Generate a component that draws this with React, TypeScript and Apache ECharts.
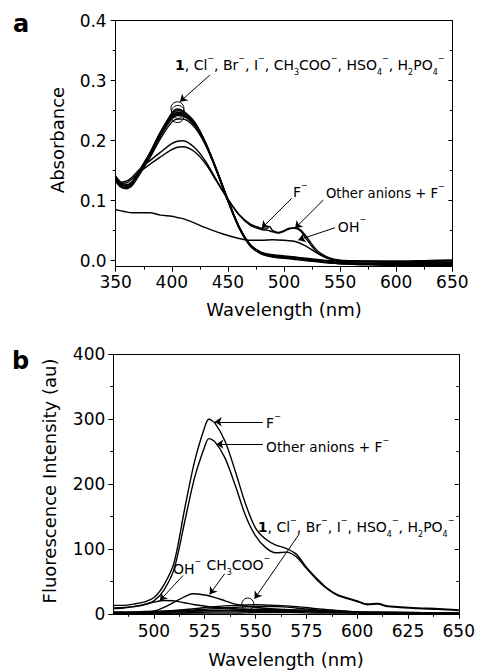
import React, { useEffect, useRef } from "react";
import * as echarts from "echarts";

const FONT = "DejaVu Sans";

// ---------- Panel a : absorbance ----------
const waveA = [350, 355, 360, 365, 370, 380, 390, 400, 405, 410, 420, 430, 440, 450, 460, 470, 480, 490, 500, 510, 520, 530, 540, 550, 575, 600, 625, 650];
const absCompound1 = [0.140, 0.128, 0.125, 0.131, 0.146, 0.178, 0.215, 0.244, 0.250, 0.248, 0.231, 0.197, 0.151, 0.101, 0.056, 0.026, 0.013, 0.008, 0.006, 0.004, 0.002, 0.000, -0.002, -0.003, -0.004, -0.004, -0.004, -0.004];
const absCl = [0.138, 0.126, 0.124, 0.130, 0.145, 0.177, 0.214, 0.246, 0.253, 0.250, 0.232, 0.197, 0.150, 0.100, 0.055, 0.025, 0.012, 0.008, 0.007, 0.006, 0.004, 0.002, 0.000, -0.001, -0.002, -0.002, -0.001, 0.000];
const absBr = [0.136, 0.124, 0.122, 0.128, 0.143, 0.175, 0.211, 0.240, 0.246, 0.244, 0.228, 0.195, 0.149, 0.099, 0.054, 0.024, 0.011, 0.006, 0.004, 0.002, 0.000, -0.002, -0.004, -0.005, -0.006, -0.006, -0.006, -0.006];
const absI = [0.134, 0.123, 0.121, 0.127, 0.142, 0.173, 0.208, 0.236, 0.242, 0.241, 0.226, 0.194, 0.149, 0.100, 0.055, 0.025, 0.012, 0.007, 0.005, 0.003, 0.001, -0.001, -0.003, -0.004, -0.005, -0.005, -0.005, -0.005];
const absAcetate = [0.132, 0.122, 0.120, 0.126, 0.140, 0.170, 0.204, 0.231, 0.236, 0.236, 0.223, 0.193, 0.150, 0.102, 0.057, 0.027, 0.014, 0.010, 0.008, 0.006, 0.003, 0.000, -0.003, -0.005, -0.007, -0.008, -0.008, -0.008];
const absHSO4 = [0.137, 0.127, 0.125, 0.131, 0.146, 0.177, 0.212, 0.241, 0.247, 0.246, 0.230, 0.196, 0.151, 0.101, 0.056, 0.026, 0.013, 0.009, 0.007, 0.005, 0.002, 0.000, -0.002, -0.004, -0.006, -0.007, -0.007, -0.007];
const absH2PO4 = [0.141, 0.130, 0.127, 0.133, 0.147, 0.178, 0.213, 0.239, 0.244, 0.243, 0.229, 0.197, 0.152, 0.102, 0.056, 0.026, 0.013, 0.008, 0.006, 0.004, 0.002, 0.001, 0.000, -0.001, -0.001, -0.001, 0.000, 0.001];
const absOH = [0.085, 0.083, 0.081, 0.080, 0.080, 0.080, 0.076, 0.074, 0.072, 0.070, 0.063, 0.055, 0.048, 0.042, 0.037, 0.034, 0.034, 0.035, 0.034, 0.032, 0.024, 0.012, 0.003, 0.000, -0.001, -0.001, 0.000, 0.001];

const waveAF = [350, 355, 360, 365, 370, 380, 390, 400, 405, 410, 420, 430, 440, 450, 460, 470, 480, 484, 487, 490, 495, 500, 505, 510, 515, 520, 530, 540, 550, 575, 600, 625, 650];
const absF = [0.137, 0.131, 0.133, 0.140, 0.150, 0.166, 0.181, 0.195, 0.199, 0.200, 0.189, 0.166, 0.134, 0.103, 0.077, 0.061, 0.054, 0.053, 0.057, 0.050, 0.047, 0.050, 0.054, 0.054, 0.049, 0.036, 0.013, 0.004, 0.000, -0.002, -0.003, -0.003, -0.003];
const absOtherF = [0.135, 0.129, 0.130, 0.137, 0.146, 0.160, 0.173, 0.185, 0.189, 0.190, 0.182, 0.162, 0.132, 0.102, 0.076, 0.059, 0.052, 0.051, 0.050, 0.048, 0.046, 0.049, 0.053, 0.055, 0.051, 0.040, 0.016, 0.005, 0.001, -0.001, -0.002, -0.002, -0.002];

const absTicks = [0, 0.1, 0.2, 0.3, 0.4];
const absMinorTicks = [0.05, 0.15, 0.25, 0.35];

// ---------- Panel b : fluorescence ----------
const waveBF = [480, 485, 490, 495, 500, 505, 510, 515, 520, 525, 527, 530, 535, 540, 545, 550, 555, 560, 565, 570, 575, 580, 585, 590, 600, 605, 610, 615, 620, 630, 640, 650];
const fluF = [13, 13, 15, 18, 25, 45, 80, 160, 235, 288, 300, 294, 266, 220, 170, 132, 115, 106, 101, 92, 72, 55, 40, 30, 20, 15, 16, 12, 11, 9, 8, 6];
const fluOtherF = [8, 9, 11, 14, 20, 37, 70, 140, 210, 258, 270, 265, 240, 198, 152, 120, 102, 94, 95, 88, 70, 53, 39, 29, 19, 14, 15, 11, 10, 8, 7, 5];

const waveBG = [480, 490, 500, 510, 520, 530, 540, 550, 560, 570, 580, 590, 600, 620, 650];
const fluCompound1 = [1, 2, 3, 5, 8, 11, 13, 14, 13, 11, 8, 5, 3, 2, 1];
const fluCl = [2, 2, 3, 4, 6, 8, 10, 11, 11, 9, 6, 4, 3, 2, 1];
const fluBr = [1, 1, 2, 3, 4, 5, 6, 7, 7, 6, 5, 4, 3, 2, 1];
const fluI = [0, 1, 1, 1, 2, 3, 3, 4, 4, 4, 3, 2, 2, 1, 1];
const fluHSO4 = [3, 3, 4, 4, 5, 5, 5, 5, 5, 5, 4, 3, 2, 1, 0];
const fluH2PO4 = [0, 0, 0, 1, 1, 1, 1, 2, 2, 2, 1, 1, 1, 0, 0];

const waveOH = [480, 490, 495, 500, 505, 510, 515, 520, 530, 540, 550, 560, 580, 600, 625, 650];
const fluOH = [9, 11, 14, 18, 20.5, 20, 17, 14, 10, 8, 6, 5, 3, 2, 1, 1];

const waveAc = [480, 490, 500, 505, 510, 515, 519, 525, 530, 535, 540, 550, 560, 570, 580, 600, 625, 650];
const fluAcetate = [0, 1, 4, 10, 18, 26, 31, 29, 25, 20, 15, 10, 7, 5, 3, 2, 1, 0];

const waveTicksB = [500, 525, 550, 575, 600, 625, 650];
const waveMinorTicksB = [487.5, 512.5, 537.5, 562.5, 587.5, 612.5, 637.5];

// ---------- Annotations (data coordinates) ----------
const arrowsA = [
  [[434, 0.3095], [407.3, 0.265]],
  [[506.9, 0.104], [480.1, 0.054]],
  [[535, 0.101], [509.8, 0.054]],
  [[545.5, 0.055], [512.7, 0.0345]],
];
const circlesA = [[405, 0.254], [405.5, 0.248], [405, 0.241]];
const labelsA = [
  { at: [402.9, 0.326], size: 14, text: "{b|1}, Cl{sp|−}, Br{sp|−}, I{sp|−}, CH{sb|3}COO{sp|−}, HSO{sb|4}{sp|−}, H{sb|2}PO{sb|4}{sp|−}" },
  { at: [508, 0.114], size: 14, text: "F{sp|−}" },
  { at: [537.4, 0.112], size: 13.2, text: "Other anions + F{sp|−}" },
  { at: [548, 0.0567], size: 14, text: "OH{sp|−}" },
];

const arrowsB = [
  [[553.6, 296], [529.9, 296]],
  [[553.6, 261.5], [530.7, 261.5]],
  [[571.6, 123.5], [549.5, 23.2]],
  [[514.3, 59], [502.9, 20.5]],
  [[534.8, 61.8], [527.4, 29.8]],
];
const circlesB = [[546.2, 15]];
const labelsB = [
  { at: [555.2, 293.4], size: 14, text: "F{sp|−}" },
  { at: [555.2, 257.3], size: 13.7, text: "Other anions + F{sp|−}" },
  { at: [551.1, 133.7], size: 14, text: "{b|1}, Cl{sp|−}, Br{sp|−}, I{sp|−}, HSO{sb|4}{sp|−}, H{sb|2}PO{sb|4}{sp|−}" },
  { at: [509.4, 69.5], size: 14, text: "OH{sp|−}" },
  { at: [525.8, 74.6], size: 14, text: "CH{sb|3}COO{sp|−}" },
];

const BLACK = "#000";

function lineSeries(x: number[], y: number[], xi: number, yi: number, extra: any = {}) {
  return {
    type: "line",
    xAxisIndex: xi,
    yAxisIndex: yi,
    data: x.map((v, i) => [v, y[i]]),
    symbol: "none",
    smooth: 0.3,
    silent: true,
    lineStyle: { color: BLACK, width: 1.4 },
    ...extra,
  };
}

function annot(arrows: number[][][], circles: number[][], size: number) {
  return {
    markLine: {
      silent: true,
      animation: false,
      symbol: ["none", "arrow"],
      symbolSize: 7,
      label: { show: false },
      lineStyle: { color: BLACK, width: 1, type: "solid" },
      emphasis: { disabled: true },
      data: arrows.map(([s, e]) => [{ coord: s }, { coord: e }]),
    },
    markPoint: {
      silent: true,
      animation: false,
      symbol: "circle",
      symbolSize: size,
      itemStyle: { color: "rgba(0,0,0,0)", borderColor: BLACK, borderWidth: 1 },
      label: { show: false },
      data: circles.map((c) => ({ coord: c })),
    },
  };
}

const tickLabel = { color: BLACK, fontFamily: FONT, fontSize: 17 };
const axLine = { show: true, onZero: false, lineStyle: { color: BLACK, width: 1 } };
const noLine = { show: false, onZero: false };

function buildOption() {
  return {
    animation: false,
    backgroundColor: "#fff",
    grid: [
      { left: 115.7, top: 20.7, width: 336.6, height: 246 },
      { left: 113.3, top: 354.3, width: 346.7, height: 259.5 },
    ],
    xAxis: [
      {
        gridIndex: 0, type: "value", min: 350, max: 650, interval: 50, position: "bottom",
        axisLine: axLine,
        axisTick: { show: true, length: 5, lineStyle: { color: BLACK } },
        minorTick: { show: true, splitNumber: 2, length: 3, lineStyle: { color: BLACK } },
        axisLabel: { ...tickLabel, margin: 7 },
        splitLine: { show: false },
      },
      {
        gridIndex: 0, type: "value", min: 350, max: 650, interval: 50, position: "top",
        axisLine: axLine, axisTick: { show: false }, axisLabel: { show: false }, splitLine: { show: false },
      },
      {
        gridIndex: 1, type: "value", min: 480, max: 650, position: "bottom",
        axisLine: axLine,
        axisTick: { show: true, length: 5, customValues: waveTicksB, lineStyle: { color: BLACK } },
        axisLabel: { ...tickLabel, margin: 9, customValues: waveTicksB },
        splitLine: { show: false },
      },
      {
        gridIndex: 1, type: "value", min: 480, max: 650, position: "bottom",
        axisLine: noLine,
        axisTick: { show: true, length: 3, customValues: waveMinorTicksB, lineStyle: { color: BLACK } },
        axisLabel: { show: false }, splitLine: { show: false },
      },
      {
        gridIndex: 1, type: "value", min: 480, max: 650, position: "top",
        axisLine: axLine, axisTick: { show: false }, axisLabel: { show: false }, splitLine: { show: false },
      },
    ],
    yAxis: [
      {
        gridIndex: 0, type: "value", min: -0.01, max: 0.4, position: "left",
        axisLine: axLine,
        axisTick: { show: true, length: 5, customValues: absTicks, lineStyle: { color: BLACK } },
        axisLabel: { ...tickLabel, margin: 9, customValues: absTicks, formatter: (v: number) => v.toFixed(1) },
        splitLine: { show: false },
      },
      {
        gridIndex: 0, type: "value", min: -0.01, max: 0.4, position: "left",
        axisLine: noLine,
        axisTick: { show: true, length: 3, customValues: absMinorTicks, lineStyle: { color: BLACK } },
        axisLabel: { show: false }, splitLine: { show: false },
      },
      {
        gridIndex: 0, type: "value", min: -0.01, max: 0.4, position: "right",
        axisLine: axLine,
        axisTick: { show: true, inside: true, length: 4, customValues: absTicks, lineStyle: { color: BLACK } },
        axisLabel: { show: false }, splitLine: { show: false },
      },
      {
        gridIndex: 0, type: "value", min: -0.01, max: 0.4, position: "right",
        axisLine: noLine,
        axisTick: { show: true, inside: true, length: 2.5, customValues: absMinorTicks, lineStyle: { color: BLACK } },
        axisLabel: { show: false }, splitLine: { show: false },
      },
      {
        gridIndex: 1, type: "value", min: 0, max: 400, interval: 100, position: "left",
        axisLine: axLine,
        axisTick: { show: true, length: 5, lineStyle: { color: BLACK } },
        minorTick: { show: true, splitNumber: 2, length: 3, lineStyle: { color: BLACK } },
        axisLabel: { ...tickLabel, margin: 8 },
        splitLine: { show: false },
      },
      {
        gridIndex: 1, type: "value", min: 0, max: 400, interval: 100, position: "right",
        axisLine: axLine,
        axisTick: { show: true, inside: true, length: 4, lineStyle: { color: BLACK } },
        minorTick: { show: true, splitNumber: 2, length: 2.5, lineStyle: { color: BLACK } },
        axisLabel: { show: false }, splitLine: { show: false },
      },
    ],
    series: [
      lineSeries(waveA, absCompound1, 0, 0, annot(arrowsA, circlesA, 13)),
      lineSeries(waveA, absCl, 0, 0),
      lineSeries(waveA, absBr, 0, 0),
      lineSeries(waveA, absI, 0, 0),
      lineSeries(waveA, absAcetate, 0, 0),
      lineSeries(waveA, absHSO4, 0, 0),
      lineSeries(waveA, absH2PO4, 0, 0),
      lineSeries(waveAF, absF, 0, 0),
      lineSeries(waveAF, absOtherF, 0, 0),
      lineSeries(waveA, absOH, 0, 0),
      lineSeries(waveBF, fluF, 2, 4, annot(arrowsB, circlesB, 12)),
      lineSeries(waveBF, fluOtherF, 2, 4),
      lineSeries(waveBG, fluCompound1, 2, 4),
      lineSeries(waveBG, fluCl, 2, 4),
      lineSeries(waveBG, fluBr, 2, 4),
      lineSeries(waveBG, fluI, 2, 4),
      lineSeries(waveBG, fluHSO4, 2, 4),
      lineSeries(waveBG, fluH2PO4, 2, 4),
      lineSeries(waveOH, fluOH, 2, 4),
      lineSeries(waveAc, fluAcetate, 2, 4),
    ],
  };
}

function richFor(fs: number) {
  const small = Math.round(fs * 0.6);
  return {
    b: { fontFamily: FONT, fontSize: fs, fontWeight: "bold", fill: BLACK, lineHeight: fs + 8 },
    sp: { fontFamily: FONT, fontSize: small, fill: BLACK, verticalAlign: "top", lineHeight: small + 2 },
    sb: { fontFamily: FONT, fontSize: small, fill: BLACK, verticalAlign: "bottom", lineHeight: small + 2 },
  };
}

export default function App() {
  const ref = useRef<HTMLDivElement>(null);
  useEffect(() => {
    const chart = echarts.init(ref.current!, null, { renderer: "svg" });
    chart.setOption(buildOption() as any);

    const toPx = (panel: number, pt: number[]) =>
      chart.convertToPixel(panel === 0 ? { xAxisIndex: 0, yAxisIndex: 0 } : { xAxisIndex: 2, yAxisIndex: 4 }, pt) as number[];

    const annoText = (panel: number, l: { at: number[]; text: string; size: number }) => {
      const p = toPx(panel, l.at);
      const fs = l.size;
      return {
        type: "text",
        x: p[0],
        y: p[1],
        silent: true,
        style: {
          text: l.text,
          fontFamily: FONT,
          fontSize: fs,
          fill: BLACK,
          align: "left",
          verticalAlign: "middle",
          lineHeight: fs + 8,
          rich: richFor(fs),
        },
      };
    };

    const title = (text: string, x: number, y: number, fs: number, rot = 0, bold = false) => ({
      type: "text",
      x,
      y,
      rotation: rot,
      silent: true,
      style: {
        text,
        fontFamily: FONT,
        fontSize: fs,
        fontWeight: bold ? "bold" : "normal",
        fill: BLACK,
        align: bold ? "left" : "center",
        verticalAlign: "middle",
      },
    });

    const graphics: any[] = [
      title("a", 13, 24, 24, 0, true),
      title("b", 12, 361, 24, 0, true),
      title("Absorbance", 57, 140, 18, Math.PI / 2),
      title("Wavelength (nm)", 284, 309, 18),
      title("Fluorescence Intensity (au)", 49, 481, 18, Math.PI / 2),
      title("Wavelength (nm)", 286, 659, 18),
      ...labelsA.map((l) => annoText(0, l)),
      ...labelsB.map((l) => annoText(1, l)),
    ];
    chart.setOption({ graphic: graphics } as any);

    return () => chart.dispose();
  }, []);

  return (
    <div
      ref={ref}
      style={{ position: "absolute", left: 0, top: 0, width: 478, height: 671, background: "#fff" }}
    />
  );
}
